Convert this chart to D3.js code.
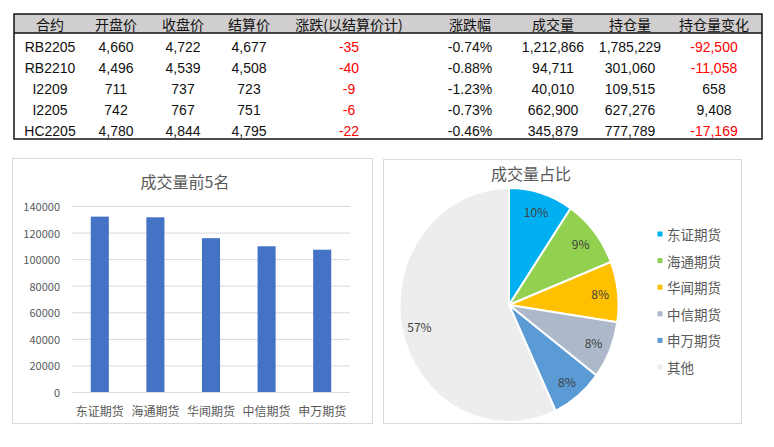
<!DOCTYPE html>
<html><head><meta charset="utf-8">
<script src="https://cdn.jsdelivr.net/npm/d3@7"></script>
<style>
html,body{margin:0;padding:0;background:#fff;}
svg{display:block;font-family:"Noto Sans CJK SC","Noto Sans",sans-serif;}
</style></head>
<body><svg id="c" width="774" height="447"></svg>
<script>
// ---------- data ----------
const tableHeaders = ["合约","开盘价","收盘价","结算价","涨跌(以结算价计)","涨跌幅","成交量","持仓量","持仓量变化"];
const contracts   = ["RB2205","RB2210","I2209","I2205","HC2205"];
const openPrices  = ["4,660","4,496","711","742","4,780"];
const closePrices = ["4,722","4,539","737","767","4,844"];
const settlePrices= ["4,677","4,508","723","751","4,795"];
const changes     = [-35,-40,-9,-6,-22];
const changePcts  = ["-0.74%","-0.88%","-1.23%","-0.73%","-0.46%"];
const volumes     = ["1,212,866","94,711","40,010","662,900","345,879"];
const openInterest= ["1,785,229","301,060","109,515","627,276","777,789"];
const oiChanges   = [-92500,-11058,658,9408,-17169];

const brokers     = ["东证期货","海通期货","华闻期货","中信期货","申万期货"];
const brokerVolumes = [132000,131500,115800,109700,107100];
const yTicks      = [0,20000,40000,60000,80000,100000,120000,140000];

const pieLabels   = ["东证期货","海通期货","华闻期货","中信期货","申万期货","其他"];
const pieValues   = [132000,131500,115800,109700,107100,790000];
const pieColors   = ["#00b0f0","#92d050","#ffc000","#adb9ca","#5b9bd5","#ededed"];

// ---------- table ----------
const svg = d3.select("#c");
const fmt = d3.format(",");
const tX0 = 14, tX1 = 762, tTop = 14, tHeadB = 33, tBot = 139;
const colX = d3.scaleOrdinal().domain(d3.range(9)).range([50,116,183,249,349,470,553,630,714]);
const rowY = d3.scalePoint().domain(d3.range(5)).range([46,130]);

svg.append("rect").attr("x",tX0).attr("y",tTop).attr("width",tX1-tX0).attr("height",tHeadB-tTop).attr("fill","#d0cece");
svg.append("rect").attr("x",tX0).attr("y",tTop).attr("width",tX1-tX0).attr("height",tBot-tTop)
  .attr("fill","none").attr("stroke","#111").attr("stroke-width",1.5);
svg.append("line").attr("x1",tX0).attr("x2",tX1).attr("y1",tHeadB).attr("y2",tHeadB).attr("stroke","#111").attr("stroke-width",1.5);

svg.append("g").selectAll("text").data(tableHeaders).join("text")
  .attr("x",(d,i)=>colX(i)).attr("y",24).attr("text-anchor","middle").attr("dominant-baseline","central")
  .attr("font-size",14).attr("fill","#111").text(d=>d);

const rows = contracts.map((c,i)=>[
  {t:c},{t:openPrices[i]},{t:closePrices[i]},{t:settlePrices[i]},
  {t:String(changes[i]),red:changes[i]<0},{t:changePcts[i]},{t:volumes[i]},{t:openInterest[i]},
  {t:fmt(oiChanges[i]).replace("−","-"),red:oiChanges[i]<0}
]);
rows.forEach((r,i)=>{
  svg.append("g").selectAll("text").data(r).join("text")
    .attr("x",(d,j)=>colX(j)).attr("y",rowY(i)+1).attr("text-anchor","middle").attr("dominant-baseline","central")
    .attr("font-family","'Liberation Sans',Arial,sans-serif")
    .attr("font-size",14).attr("fill",d=>d.red?"#ff0000":"#111").text(d=>d.t);
});

// ---------- bar chart ----------
svg.append("rect").attr("x",12.5).attr("y",158.5).attr("width",360).attr("height",265)
  .attr("fill","#fff").attr("stroke","#d9d9d9");
svg.append("text").attr("x",185).attr("y",181).attr("text-anchor","middle").attr("dominant-baseline","central")
  .attr("font-size",16).attr("fill","#595959").text("成交量前5名");

const x = d3.scaleBand().domain(brokers).range([72,350]).paddingInner(0.675).paddingOuter(0.3375);
const y = d3.scaleLinear().domain([0,140000]).range([392,206]);

svg.append("g").selectAll("line").data(yTicks).join("line")
  .attr("x1",72).attr("x2",350).attr("y1",d=>y(d)+0.5).attr("y2",d=>y(d)+0.5)
  .attr("stroke","#d9d9d9").attr("stroke-width",1);
svg.append("g").selectAll("text").data(yTicks).join("text")
  .attr("x",60).attr("y",d=>y(d)).attr("text-anchor","end").attr("dominant-baseline","central")
  .attr("font-size",11).attr("fill","#595959").text(d=>d);
svg.append("g").selectAll("rect").data(brokerVolumes).join("rect")
  .attr("x",(d,i)=>x(brokers[i])).attr("width",x.bandwidth())
  .attr("y",d=>y(d)).attr("height",d=>y(0)-y(d)).attr("fill","#4472c4");
svg.append("g").selectAll("text").data(brokers).join("text")
  .attr("x",d=>x(d)+x.bandwidth()/2).attr("y",410).attr("text-anchor","middle").attr("dominant-baseline","central")
  .attr("font-size",12).attr("fill","#595959").text(d=>d);

// ---------- pie ----------
svg.append("rect").attr("x",383.5).attr("y",159.5).attr("width",358).attr("height",264)
  .attr("fill","#fff").attr("stroke","#d9d9d9");
svg.append("text").attr("x",531).attr("y",173).attr("text-anchor","middle").attr("dominant-baseline","central")
  .attr("font-size",16).attr("fill","#595959").text("成交量占比");

const cx = 509, cy = 305, R = 117, sx = 109.5/117;
const pie = d3.pie().sort(null).value(d=>d)(pieValues);
const arc = d3.arc().innerRadius(0).outerRadius(R);
const total = d3.sum(pieValues);
const pg = svg.append("g").attr("transform",`translate(${cx},${cy}) scale(${sx},1)`);
pg.selectAll("path").data(pie).join("path")
  .attr("d",arc).attr("fill",(d,i)=>pieColors[i]).attr("stroke","#fff").attr("stroke-width",2)
  .attr("vector-effect","non-scaling-stroke");
const rl = 98;
svg.append("g").selectAll("text").data(pie).join("text")
  .attr("x",d=>{const a=(d.startAngle+d.endAngle)/2;return cx+Math.sin(a)*rl*sx;})
  .attr("y",d=>{const a=(d.startAngle+d.endAngle)/2;return cy-Math.cos(a)*rl;})
  .attr("text-anchor","middle").attr("dominant-baseline","central")
  .attr("font-size",12).attr("fill","#404040")
  .text(d=>Math.round(d.value/total*100)+"%");

const lg = svg.append("g");
const ly = d3.scalePoint().domain(pieLabels).range([234,367]);
lg.selectAll("rect").data(pieLabels).join("rect")
  .attr("x",657.5).attr("y",d=>ly(d)-2.5).attr("width",5).attr("height",5).attr("fill",(d,i)=>pieColors[i]);
lg.selectAll("text").data(pieLabels).join("text")
  .attr("x",667).attr("y",d=>ly(d)).attr("dominant-baseline","central")
  .attr("font-size",13.5).attr("fill","#595959").text(d=>d);
</script></body></html>
